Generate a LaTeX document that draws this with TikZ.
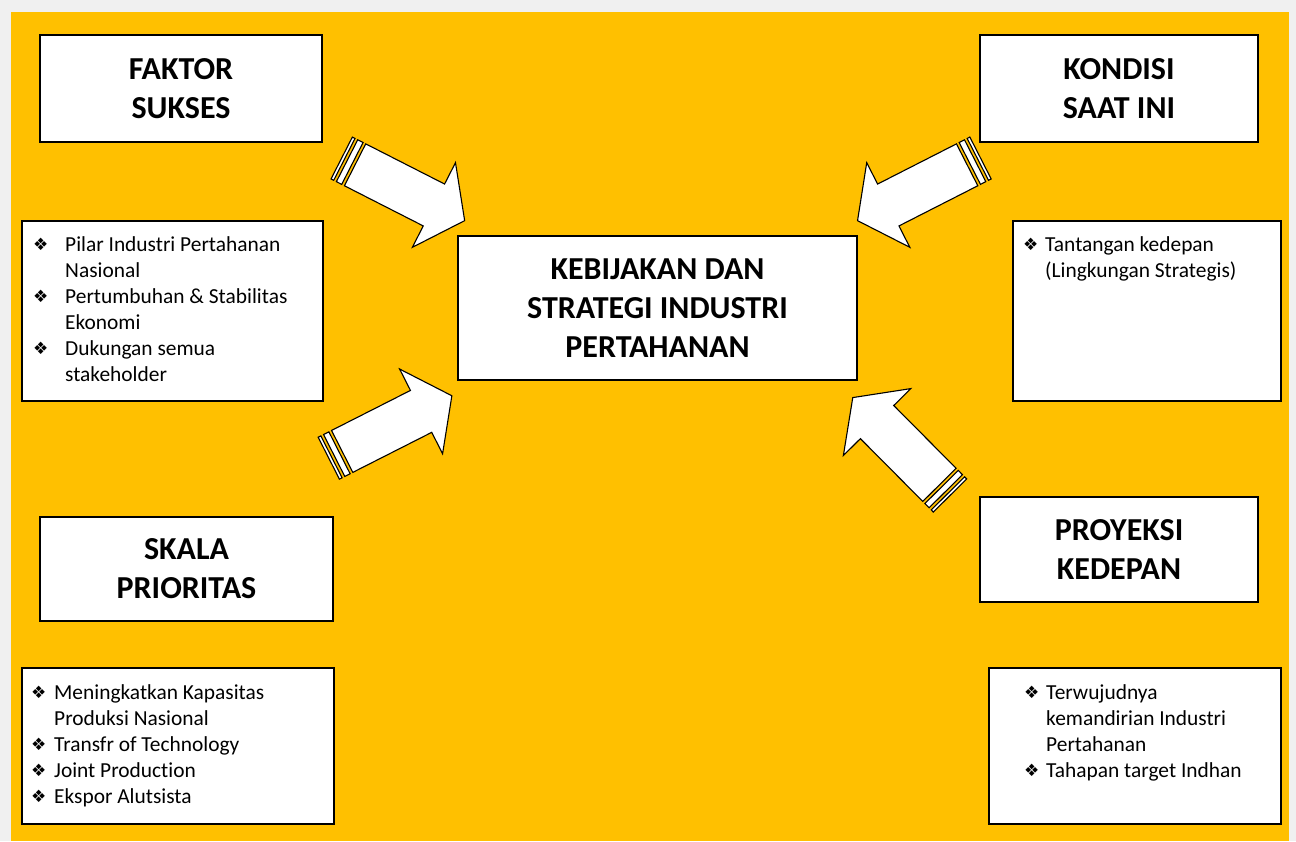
\documentclass[tikz,border=0pt]{standalone}
\usepackage{fontspec}
\setmainfont{Carlito}[Ligatures=NoCommon]
\newfontfamily\symfont{DejaVu Sans}
\definecolor{bggray}{HTML}{F0F0F0}
\definecolor{amber}{HTML}{FFC000}
\newcommand\bul{\raisebox{0.5pt}{\symfont\fontsize{17}{17}\selectfont ❖}}
\tikzset{
  titlebox/.style={draw=black, line width=1.6pt, fill=white, align=center, inner sep=0pt,
    font={\fontsize{32}{39}\selectfont\bfseries}},
  listbox/.style={draw=black, line width=1.6pt, fill=white, anchor=north west, inner sep=0pt},
  listtext/.style={align=left, anchor=north west, inner sep=0pt,
    font={\fontsize{21.4}{26}\selectfont}},
  arrowshape/.style={draw=black, fill=white, line width=1.1pt, line join=miter},
  stripedarrow/.pic={
    \path[arrowshape] (15,-23.5) -- (103.5,-23.5) -- (103.5,-47.5) -- (138,0)
      -- (103.5,47.5) -- (103.5,23.5) -- (15,23.5) -- cycle;
    \path[arrowshape] (0,-23.5) rectangle (3,23.5);
    \path[arrowshape] (6,-23.5) rectangle (12,23.5);
  }
}
\begin{document}
\begin{tikzpicture}[x=1pt, y=-1pt]
  % page and panel
  \fill[bggray] (0,0) rectangle (1296,841);
  \useasboundingbox (0,0) rectangle (1296,841);
  \fill[amber] (11,12) rectangle (1289,841);

  % heading boxes
  \node[titlebox, minimum width=282pt, minimum height=107pt] (faktor) at (181,88.5) {FAKTOR\\SUKSES};
  \node[titlebox, minimum width=278pt, minimum height=107pt] (kondisi) at (1119,88.5) {KONDISI\\SAAT INI};
  \node[titlebox, minimum width=399pt, minimum height=144pt] (pusat) at (657.5,308) {KEBIJAKAN DAN\\STRATEGI INDUSTRI\\PERTAHANAN};
  \node[titlebox, minimum width=293pt, minimum height=104pt] (skala) at (186.5,569) {SKALA\\PRIORITAS};
  \node[titlebox, minimum width=278pt, minimum height=105pt] (proyeksi) at (1119,549.5) {PROYEKSI\\KEDEPAN};

  % list boxes
  \node[listbox, minimum width=301pt, minimum height=180pt] (lfaktor) at (21,220) {};
  \node[listtext] (tfaktor) at ([shift={(12,16)}]lfaktor.north west)
    {\makebox[32pt][l]{\bul}Pilar Industri Pertahanan\\
     \hspace*{32pt}Nasional\\
     \makebox[32pt][l]{\bul}Pertumbuhan \& Stabilitas\\
     \hspace*{32pt}Ekonomi\\
     \makebox[32pt][l]{\bul}Dukungan semua\\
     \hspace*{32pt}stakeholder};

  \node[listbox, minimum width=268pt, minimum height=180pt] (lkondisi) at (1012,220) {};
  \node[listtext] (tkondisi) at ([shift={(11,16)}]lkondisi.north west)
    {\makebox[22pt][l]{\bul}Tantangan kedepan\\
     \hspace*{22pt}(Lingkungan Strategis)};

  \node[listbox, minimum width=312pt, minimum height=156pt] (lskala) at (21,667) {};
  \node[listtext] (tskala) at ([shift={(10,17)}]lskala.north west)
    {\makebox[23pt][l]{\bul}Meningkatkan Kapasitas\\
     \hspace*{23pt}Produksi Nasional\\
     \makebox[23pt][l]{\bul}Transfr of Technology\\
     \makebox[23pt][l]{\bul}Joint Production\\
     \makebox[23pt][l]{\bul}Ekspor Alutsista};

  \node[listbox, minimum width=292pt, minimum height=156pt] (lproyeksi) at (988,667) {};
  \node[listtext] (tproyeksi) at ([shift={(36,17)}]lproyeksi.north west)
    {\makebox[22pt][l]{\bul}Terwujudnya\\
     \hspace*{22pt}kemandirian Industri\\
     \hspace*{22pt}Pertahanan\\
     \makebox[22pt][l]{\bul}Tahapan target Indhan};

  % striped block arrows pointing at the central box
  \pic[rotate=-27] at (341.7,158) {stripedarrow};
  \pic[rotate=26.9] at (328.8,458.2) {stripedarrow};
  \pic[rotate=207] at (980.5,158) {stripedarrow};
  \pic[rotate=134.8] at (950,495.5) {stripedarrow};
\end{tikzpicture}
\end{document}
